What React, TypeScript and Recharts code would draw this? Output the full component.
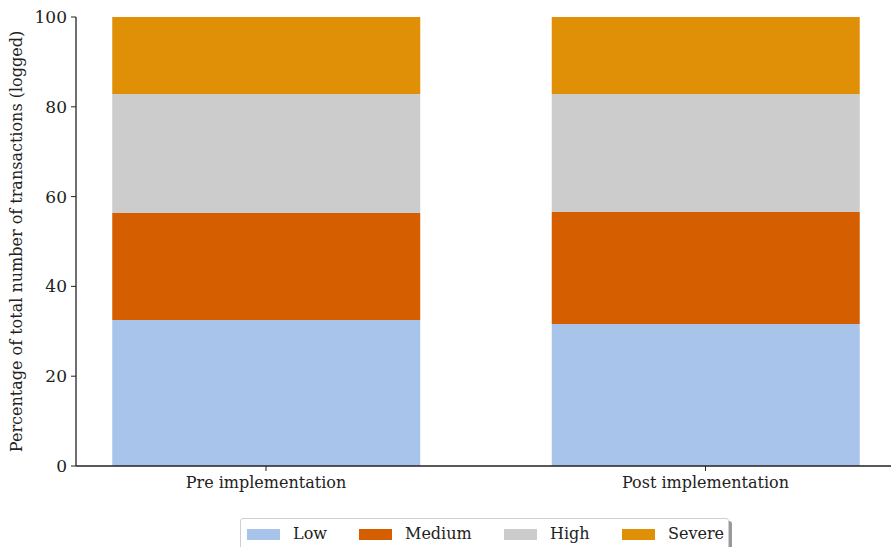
import React from "react";
import { BarChart, Bar, XAxis, YAxis } from "recharts";

const categories = ["Pre implementation", "Post implementation"];
const seriesNames = ["Low", "Medium", "High", "Severe"];
const lowValues = [32.5, 31.6];
const mediumValues = [23.85, 24.95];
const highValues = [26.5, 26.3];
const severeValues = [17.15, 17.15];
const yTicks = [0, 20, 40, 60, 80, 100];
const colors = ["#a9c4eb", "#d55e00", "#cccccc", "#e09006"];

const seriesValues = [lowValues, mediumValues, highValues, severeValues];
const data = categories.map((c, i) => {
  const row: any = { x: i, name: c };
  seriesNames.forEach((s, k) => {
    row[s] = seriesValues[k][i];
  });
  return row;
});

const FONT = "'DejaVu Serif', serif";

export default function App() {
  return (
    <div
      style={{
        position: "absolute",
        left: 0,
        top: 0,
        width: 891,
        height: 547,
        overflow: "hidden",
        background: "#fff",
        fontFamily: FONT,
      }}
    >
      <BarChart
        width={891}
        height={547}
        data={data}
        margin={{ top: 17, right: 0, bottom: 51, left: 0 }}
      >
        <XAxis
          xAxisId="bottom"
          dataKey="x"
          type="number"
          domain={[-0.4323, 1.4221]}
          allowDataOverflow
          ticks={[0, 1]}
          tickFormatter={(v: number) => categories[v] ?? ""}
          height={30}
          axisLine={{ stroke: "#222", strokeWidth: 1.3 }}
          tickLine={{ stroke: "#222" }}
          tickSize={5}
          tickMargin={6}
          tick={{ fill: "#222", fontSize: 16, fontFamily: FONT }}
        />
        <XAxis
          xAxisId="top"
          dataKey="x"
          type="number"
          orientation="top"
          domain={[-0.4323, 1.4221]}
          allowDataOverflow
          height={0}
          tick={false}
          tickLine={false}
          axisLine={{ stroke: "#222", strokeWidth: 1.3 }}
        />
        <YAxis
          type="number"
          domain={[0, 100]}
          ticks={yTicks}
          width={76}
          axisLine={{ stroke: "#222", strokeWidth: 1.3 }}
          tickLine={{ stroke: "#222" }}
          tickSize={5}
          tickMargin={4}
          tick={{ fill: "#222", fontSize: 17, fontFamily: FONT }}
          label={{
            value: "Percentage of total number of transactions (logged)",
            angle: -90,
            position: "insideLeft",
            dx: 11,
            style: {
              textAnchor: "middle",
              fill: "#222",
              fontSize: 16,
              fontFamily: FONT,
            },
          }}
        />
        {seriesNames.map((s, k) => (
          <Bar
            key={s}
            dataKey={s}
            xAxisId="bottom"
            stackId="a"
            fill={colors[k]}
            barSize={308}
            isAnimationActive={false}
          />
        ))}
      </BarChart>
      <div
        style={{
          position: "absolute",
          left: 240,
          top: 518,
          width: 489,
          height: 40,
          border: "1px solid #cfcfcf",
          borderRadius: 3,
          boxShadow: "3px 3px 0 #999",
          background: "#fff",
          boxSizing: "border-box",
        }}
      >
        {seriesNames.map((s, k) => {
          const lefts = [6, 118, 263, 381];
          return (
            <div
              key={s}
              style={{
                position: "absolute",
                left: lefts[k],
                top: 7,
                display: "flex",
                alignItems: "center",
                fontSize: 16,
                color: "#222",
                lineHeight: "16px",
              }}
            >
              <span
                style={{
                  display: "inline-block",
                  width: 33,
                  height: 11,
                  background: colors[k],
                  marginRight: 13,
                }}
              />
              <span>{s}</span>
            </div>
          );
        })}
      </div>
    </div>
  );
}
